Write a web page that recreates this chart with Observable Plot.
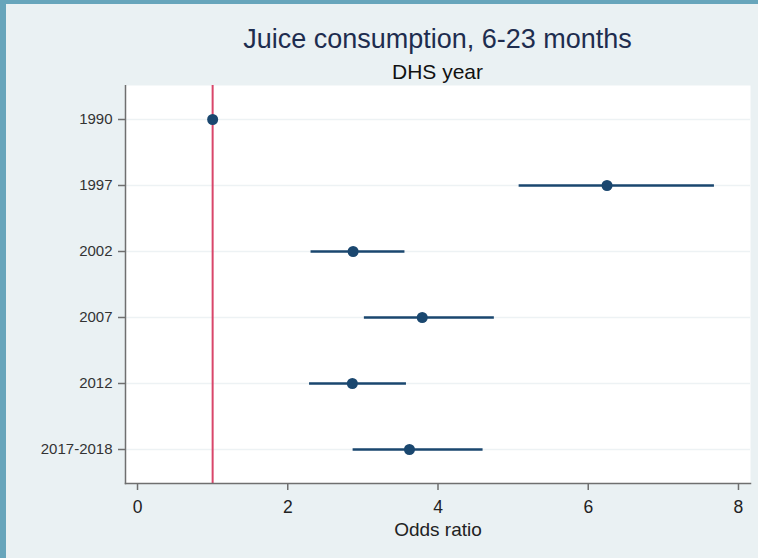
<!DOCTYPE html>
<html>
<head>
<meta charset="utf-8">
<script src="https://cdn.jsdelivr.net/npm/d3@7"></script>
<script src="https://cdn.jsdelivr.net/npm/@observablehq/plot@0.6"></script>
<style>
  html, body { margin: 0; padding: 0; background: #eaf1f3; }
  #wrap { position: relative; width: 758px; height: 558px; background: #eaf1f3; overflow: hidden;
          font-family: "Liberation Sans", Arial, sans-serif; }
  #ftop { position: absolute; left: 0; top: 0; width: 758px; height: 4px; background: #67a5bb; }
  #fleft { position: absolute; left: 0; top: 0; width: 6px; height: 558px; background: #67a5bb; }
  #title { position: absolute; left: 0; width: 875px; top: 26px; text-align: center;
           font-size: 27px; line-height: 26px; color: #1e2d4f; white-space: nowrap; }
  #subtitle { position: absolute; left: 0; width: 875px; top: 62px; text-align: center;
              font-size: 21px; line-height: 20px; color: #111; white-space: nowrap; }
  #chart { position: absolute; left: 0; top: 85px; }
</style>
</head>
<body>
<div id="wrap">
  <div id="ftop"></div>
  <div id="fleft"></div>
  <div id="title">Juice consumption, 6-23 months</div>
  <div id="subtitle">DHS year</div>
  <div id="chart"></div>
</div>
<script>
// Data
const years = ["1990", "1997", "2002", "2007", "2012", "2017-2018"];
const oddsRatio = [1.00, 6.25, 2.87, 3.79, 2.86, 3.62];
const ciLow  = [null, 5.08, 2.31, 3.02, 2.29, 2.87];
const ciHigh = [null, 7.68, 3.56, 4.75, 3.58, 4.60];
const xTicks = [0, 2, 4, 6, 8];
const xDomain = [-0.16, 8.16];
const referenceValue = [1];
const xTitle = ["Odds ratio"];

const rows = years.map((y, i) => ({year: y, or: oddsRatio[i], lo: ciLow[i], hi: ciHigh[i]}));

const navy = "#1a476f";
const axisGrey = "#6f6f6f";

const chart = Plot.plot({
  width: 758,
  height: 473,
  marginTop: 0,
  marginBottom: 75,
  marginLeft: 125,
  marginRight: 8,
  style: {background: "transparent", fontFamily: "'Liberation Sans', Arial, sans-serif", color: "#222"},
  x: {domain: xDomain, ticks: xTicks},
  y: {type: "point", domain: years, padding: 0.5},
  marks: [
    Plot.frame({fill: "white", stroke: null}),
    Plot.gridY({stroke: "#edf2f4", strokeOpacity: 1, strokeWidth: 1.5}),
    Plot.ruleX(referenceValue, {stroke: "#d9466a", strokeWidth: 2}),
    Plot.ruleY(rows, {y: "year", x1: "lo", x2: "hi", stroke: navy, strokeWidth: 2.5}),
    Plot.dot(rows, {x: "or", y: "year", r: 5.5, fill: navy, stroke: null}),
    Plot.frame({anchor: "left", stroke: axisGrey, strokeWidth: 1.5}),
    Plot.frame({anchor: "bottom", stroke: axisGrey, strokeWidth: 1.5}),
    Plot.axisY({tickSize: 7, tickPadding: 6, fontSize: 15, stroke: axisGrey, strokeWidth: 1.5, label: null, fill: "#333"}),
    Plot.axisX({ticks: xTicks, tickSize: 7, tickPadding: 10.5, fontSize: 17.5, stroke: axisGrey, strokeWidth: 1.5, fill: "#222", label: null}),
    Plot.text(xTitle, {frameAnchor: "bottom", dy: 52.5, fontSize: 19, fill: "#222", text: d => d})
  ]
});
document.getElementById("chart").appendChild(chart);
</script>
</body>
</html>
